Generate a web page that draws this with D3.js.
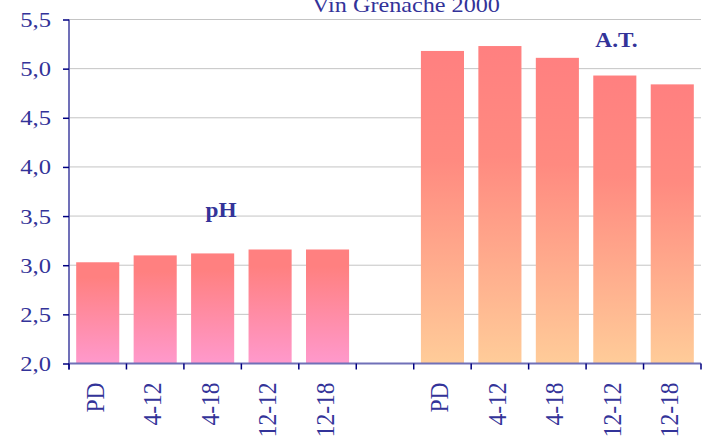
<!DOCTYPE html>
<html><head><meta charset="utf-8">
<script src="https://cdn.jsdelivr.net/npm/d3@7"></script>
<style>body{margin:0;background:#fff}</style>
</head><body>
<script>
const title = "Vin Grenache 2000";
const categories = ["PD","4-12","4-18","12-12","12-18"];
const phValues = [3.03, 3.10, 3.12, 3.16, 3.16];
const atValues = [5.18, 5.23, 5.11, 4.93, 4.84];
const yTicks = [2.0, 2.5, 3.0, 3.5, 4.0, 4.5, 5.0, 5.5];
const seriesNames = ["pH", "A.T."];

const W = 718, H = 439;
const m = {left: 69, right: 17, top: 19.5, bottom: 75.5};
const FONT = "'Liberation Serif','Times New Roman',serif";
const svg = d3.select("body").append("svg").attr("width", W).attr("height", H)
  .style("font-family", FONT);

const keys = [...categories.map(c => "ph|" + c), "gap", ...categories.map(c => "at|" + c)];
const x = d3.scaleBand().domain(keys).range([m.left, W - m.right]).paddingInner(0.25).paddingOuter(0.125);
const xb = d3.scaleBand().domain(keys).range([m.left, W - m.right]);
const y = d3.scaleLinear().domain([2.0, 5.5]).range([H - m.bottom, m.top]);

const defs = svg.append("defs");
const g1 = defs.append("linearGradient").attr("id","gPh").attr("x1",0).attr("y1",0).attr("x2",0).attr("y2",1);
g1.append("stop").attr("offset","0%").attr("stop-color","#FF8080");
g1.append("stop").attr("offset","15%").attr("stop-color","#FF8080");
g1.append("stop").attr("offset","100%").attr("stop-color","#FF99CC");
const g2 = defs.append("linearGradient").attr("id","gAt").attr("x1",0).attr("y1",0).attr("x2",0).attr("y2",1);
g2.append("stop").attr("offset","0%").attr("stop-color","#FF8080");
g2.append("stop").attr("offset","35%").attr("stop-color","#FF8A80");
g2.append("stop").attr("offset","100%").attr("stop-color","#FFCC99");

// gridlines
svg.append("g").selectAll("line").data(yTicks.slice(1)).join("line")
  .attr("x1", m.left).attr("x2", W - m.right)
  .attr("y1", d => y(d)).attr("y2", d => y(d))
  .attr("stroke", "#c4c4c4").attr("stroke-width", 1);

// bars
const data = [
  ...categories.map((c,i) => ({k:"ph|"+c, v: phValues[i], f:"url(#gPh)"})),
  ...categories.map((c,i) => ({k:"at|"+c, v: atValues[i], f:"url(#gAt)"}))
];
svg.append("g").selectAll("rect").data(data).join("rect")
  .attr("x", d => x(d.k)).attr("width", x.bandwidth())
  .attr("y", d => y(d.v)).attr("height", d => y(2.0) - y(d.v))
  .attr("fill", d => d.f);

// y axis
const yAxis = svg.append("g").attr("transform", `translate(${m.left},0)`)
  .call(d3.axisLeft(y).tickValues(yTicks).tickSize(6).tickFormat(""));
yAxis.select(".domain").attr("stroke", "#7070b8").attr("stroke-width", 2)
  .attr("d", `M0,${y(5.5)}V${y(2.0)+6}`);
yAxis.selectAll(".tick line").attr("stroke", "#000080").attr("stroke-width", 1.5);
svg.append("g").selectAll("text").data(yTicks).join("text")
  .attr("transform", d => `translate(51,${y(d) + 7.5}) scale(1.12,1)`)
  .attr("text-anchor", "end").attr("fill", "#333399").style("font-size", "22px")
  .text(d => d3.format(".1f")(d).replace(".", ","));

// x axis
const xg = svg.append("g").attr("transform", `translate(0,${y(2.0)})`);
xg.append("line").attr("x1", m.left).attr("x2", W - m.right).attr("y1",0).attr("y2",0)
  .attr("stroke", "#7070b8").attr("stroke-width", 2);
const bounds = [...keys.map(k => xb(k)), W - m.right];
xg.selectAll("line.t").data(bounds).join("line").attr("class","t")
  .attr("x1", d => d).attr("x2", d => d).attr("y1", 0).attr("y2", 6)
  .attr("stroke", "#000080").attr("stroke-width", 1.5);
xg.selectAll("text").data(keys.filter(k => k !== "gap")).join("text")
  .attr("transform", k => `translate(${xb(k) + xb.bandwidth()/2 + 6},19) rotate(-90) scale(1,1.05)`)
  .attr("text-anchor", "end").attr("fill", "#333399").style("font-size", "23.5px")
  .text(k => k.split("|")[1]);

// title
svg.append("text").attr("transform", "translate(406,12) scale(1.1,1)").attr("text-anchor", "middle")
  .attr("fill", "#333399").style("font-size", "22px").text(title);

// series labels
svg.append("text").attr("transform", "translate(221,217) scale(1.06,1)").attr("text-anchor", "middle")
  .attr("fill", "#333399").style("font-size", "22px").style("font-weight", "bold").text(seriesNames[0]);
svg.append("text").attr("transform", "translate(616.5,47) scale(1.06,1)").attr("text-anchor", "middle")
  .attr("fill", "#333399").style("font-size", "22px").style("font-weight", "bold").text(seriesNames[1]);
</script>
</body></html>
